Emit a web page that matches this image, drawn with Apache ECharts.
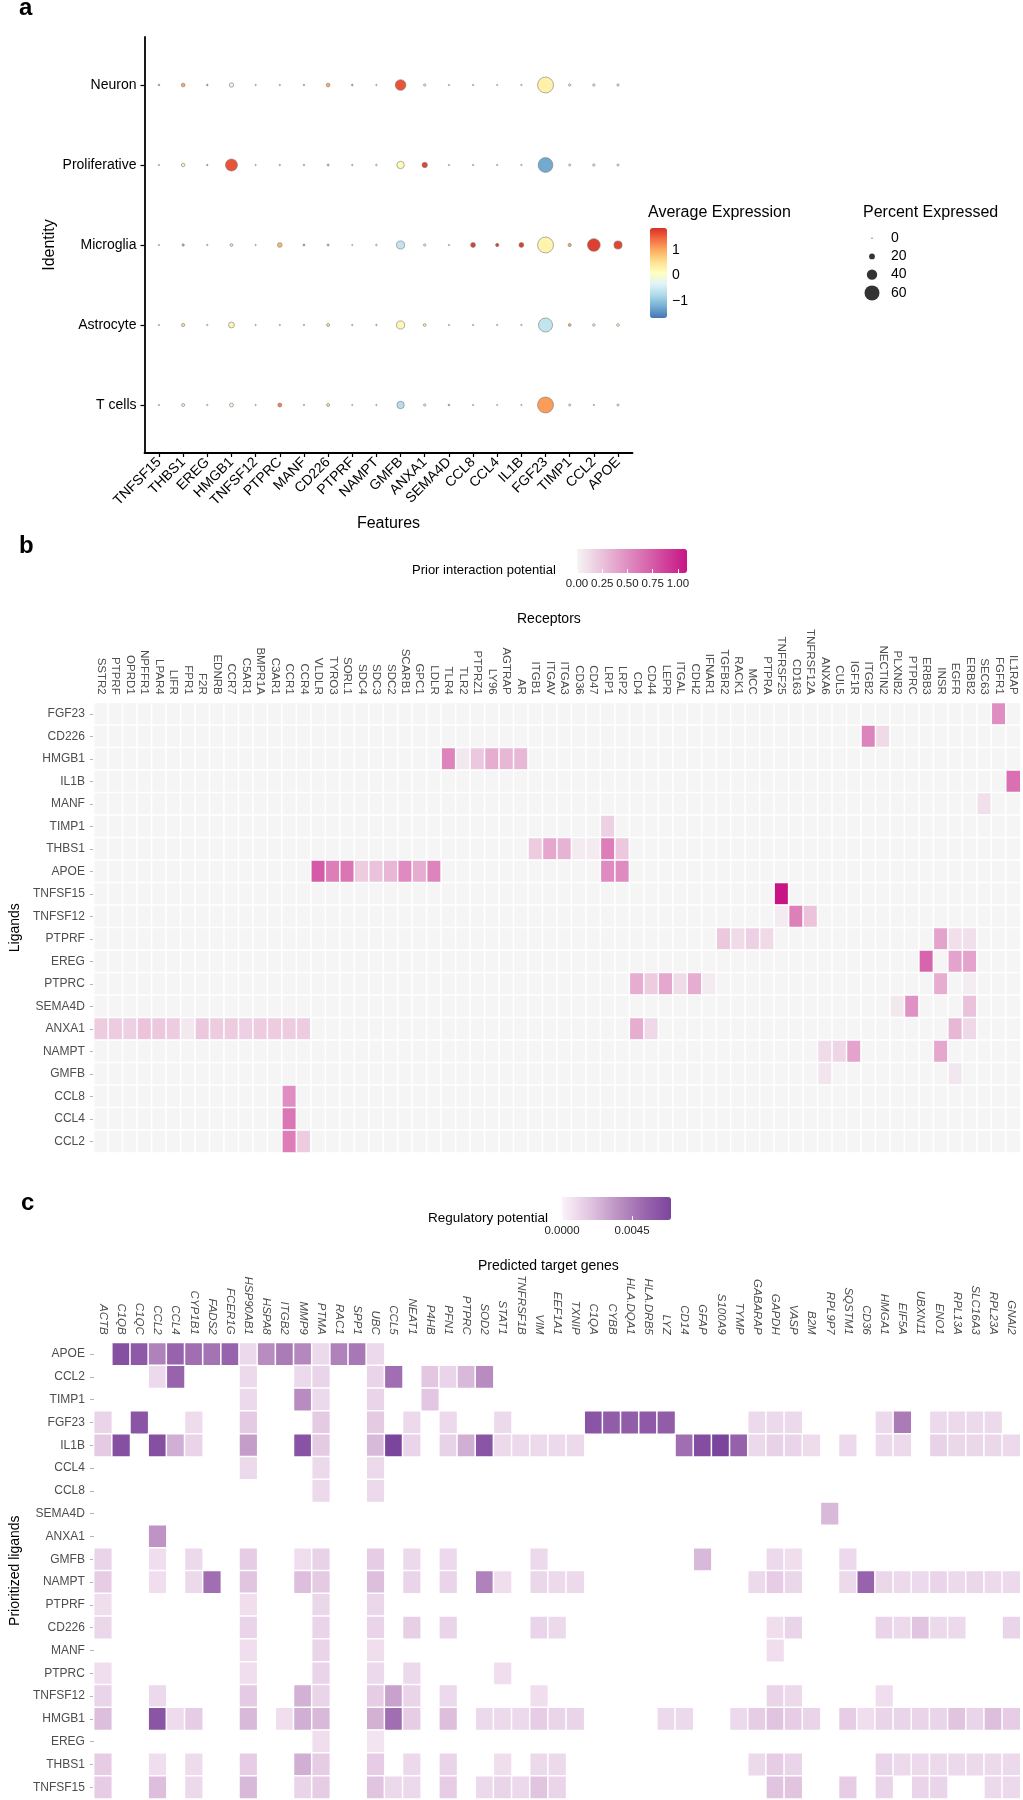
<!DOCTYPE html>
<html>
<head>
<meta charset="utf-8">
<script src="https://cdn.jsdelivr.net/npm/echarts@6/dist/echarts.min.js"></script>
<style>
  html, body { margin: 0; padding: 0; background: #fff; }
  #chart { width: 1023px; height: 1800px; }
</style>
</head>
<body>
<div id="chart"></div>
<script>
// ---------- panel a : dot plot ----------
const features = ['TNFSF15','THBS1','EREG','HMGB1','TNFSF12','PTPRC','MANF','CD226','PTPRF','NAMPT',
  'GMFB','ANXA1','SEMA4D','CCL8','CCL4','IL1B','FGF23','TIMP1','CCL2','APOE'];
const identities = ['T cells','Astrocyte','Microglia','Proliferative','Neuron']; // bottom -> top

const avgTcells   = [0, -0.3, 0, -0.1, 0, 1.3, 0, 0.5, 0, 0, -0.7, -0.3, 1.3, 0, 0, 0, 1.1, -0.3, 0, -0.3];
const pctTcells   = [0.5, 8, 1, 12, 0.5, 12, 1, 8, 0.5, 1, 27, 5, 2, 0.5, 0.5, 0.5, 64, 4, 1, 4];
const avgAstro    = [0, 0.5, 0, 0.2, 0, 0, 0.3, 0.5, 0, 0.9, 0.2, 0.3, 0, 0, 0, 0, -0.6, 0.9, 0, 0.1];
const pctAstro    = [0.5, 9, 1, 20, 0.5, 1, 1, 8, 1, 1, 30, 7, 0.5, 1, 1, 1, 56, 7, 6, 7];
const avgMicro    = [0, -1.0, 0.5, -0.5, 0, 0.9, 1.3, -1.0, 0, 0.3, -0.6, -0.3, 0, 1.75, 1.75, 1.75, 0.25, 1.0, 1.75, 1.7];
const pctMicro    = [0.5, 5, 1, 7, 0.5, 15, 3, 4, 0.3, 2, 30, 5, 1, 16, 9, 16, 64, 9, 50, 30];
const avgProlif   = [0, 0.2, 1.2, 1.6, 0, 0.5, 0.3, -0.8, 0.5, 0.3, 0.15, 1.7, 0, -0.3, -0.3, -0.3, -1.25, -0.3, -0.2, -0.3];
const pctProlif   = [1, 10, 1, 47, 0.5, 1, 2, 4, 1, 2, 27, 18, 1, 1, 1, 1, 59, 4, 5, 4];
const avgNeuron   = [1.3, 1.0, 1.4, -0.2, 0, -0.3, 1.0, 1.0, 1.4, 0.3, 1.6, -0.3, 0.2, -0.3, -0.3, -0.3, 0.3, -0.3, -0.3, -0.2];
const pctNeuron   = [2, 11, 2, 14, 1, 1, 1, 11, 2, 1, 41, 5, 1, 1, 0.5, 1, 64, 5, 5, 5];

const pctLegend = [0, 20, 40, 60];

// ---------- panel b : prior interaction potential ----------
const ligandsB = ['FGF23','CD226','HMGB1','IL1B','MANF','TIMP1','THBS1','APOE','TNFSF15','TNFSF12',
  'PTPRF','EREG','PTPRC','SEMA4D','ANXA1','NAMPT','GMFB','CCL8','CCL4','CCL2'];
const receptors = ['SSTR2','PTPRF','OPRD1','NPFFR1','LPAR4','LIFR','FPR1','F2R','EDNRB','CCR7','C5AR1',
  'BMPR1A','C3AR1','CCR1','CCR4','VLDLR','TYRO3','SORL1','SDC4','SDC3','SDC2','SCARB1','GPC1','LDLR',
  'TLR4','TLR2','PTPRZ1','LY96','AGTRAP','AR','ITGB1','ITGAV','ITGA3','CD36','CD47','LRP1','LRP2','CD4',
  'CD44','LEPR','ITGAL','CDH2','IFNAR1','TGFBR2','RACK1','MCC','PTPRA','TNFRSF25','CD163','TNFRSF12A',
  'ANXA6','CUL5','IGF1R','ITGB2','NECTIN2','PLXNB2','PTPRC','ERBB3','INSR','EGFR','ERBB2','SEC63',
  'FGFR1','IL1RAP'];
const priorScores = [
  ['FGF23','FGFR1',0.50],
  ['CD226','ITGB2',0.55], ['CD226','NECTIN2',0.13],
  ['HMGB1','TLR4',0.55], ['HMGB1','TLR2',0.06], ['HMGB1','PTPRZ1',0.22], ['HMGB1','LY96',0.35],
  ['HMGB1','AGTRAP',0.30], ['HMGB1','AR',0.30],
  ['IL1B','IL1RAP',0.65],
  ['MANF','SEC63',0.10],
  ['TIMP1','LRP1',0.18],
  ['THBS1','ITGB1',0.20], ['THBS1','ITGAV',0.38], ['THBS1','ITGA3',0.32], ['THBS1','CD36',0.05],
  ['THBS1','CD47',0.05], ['THBS1','LRP1',0.58], ['THBS1','LRP2',0.22],
  ['APOE','VLDLR',0.75], ['APOE','TYRO3',0.58], ['APOE','SORL1',0.62], ['APOE','SDC4',0.20],
  ['APOE','SDC3',0.25], ['APOE','SDC2',0.30], ['APOE','SCARB1',0.52], ['APOE','GPC1',0.35],
  ['APOE','LDLR',0.55], ['APOE','LRP1',0.52], ['APOE','LRP2',0.52],
  ['TNFSF15','TNFRSF25',1.09],
  ['TNFSF12','TNFRSF25',0.05], ['TNFSF12','CD163',0.57], ['TNFSF12','TNFRSF12A',0.24],
  ['PTPRF','TGFBR2',0.22], ['PTPRF','RACK1',0.12], ['PTPRF','MCC',0.18], ['PTPRF','PTPRA',0.13],
  ['PTPRF','INSR',0.40], ['PTPRF','EGFR',0.10], ['PTPRF','ERBB2',0.10],
  ['EREG','ERBB3',0.70], ['EREG','EGFR',0.40], ['EREG','ERBB2',0.40],
  ['PTPRC','CD4',0.35], ['PTPRC','CD44',0.20], ['PTPRC','LEPR',0.38], ['PTPRC','ITGAL',0.12],
  ['PTPRC','CDH2',0.35], ['PTPRC','IFNAR1',0.05], ['PTPRC','INSR',0.35], ['PTPRC','ERBB2',0.04],
  ['SEMA4D','PLXNB2',0.06], ['SEMA4D','PTPRC',0.48], ['SEMA4D','ERBB2',0.25],
  ['ANXA1','SSTR2',0.20], ['ANXA1','PTPRF',0.20], ['ANXA1','OPRD1',0.18], ['ANXA1','NPFFR1',0.24],
  ['ANXA1','LPAR4',0.22], ['ANXA1','LIFR',0.20], ['ANXA1','FPR1',0.06], ['ANXA1','F2R',0.22],
  ['ANXA1','EDNRB',0.20], ['ANXA1','CCR7',0.20], ['ANXA1','C5AR1',0.18], ['ANXA1','BMPR1A',0.20],
  ['ANXA1','C3AR1',0.20], ['ANXA1','CCR1',0.20], ['ANXA1','CCR4',0.20], ['ANXA1','CD4',0.35],
  ['ANXA1','CD44',0.14], ['ANXA1','EGFR',0.30], ['ANXA1','ERBB2',0.14],
  ['NAMPT','ANXA6',0.12], ['NAMPT','CUL5',0.15], ['NAMPT','IGF1R',0.40], ['NAMPT','INSR',0.38],
  ['GMFB','ANXA6',0.08], ['GMFB','EGFR',0.07],
  ['CCL8','CCR1',0.50],
  ['CCL4','CCR1',0.62],
  ['CCL2','CCR1',0.58], ['CCL2','CCR4',0.20]
];
const priorTicks = [0, 0.25, 0.5, 0.75, 1];

// ---------- panel c : regulatory potential ----------
const ligandsC = ['APOE','CCL2','TIMP1','FGF23','IL1B','CCL4','CCL8','SEMA4D','ANXA1','GMFB','NAMPT',
  'PTPRF','CD226','MANF','PTPRC','TNFSF12','HMGB1','EREG','THBS1','TNFSF15'];
const targets = ['ACTB','C1QB','C1QC','CCL2','CCL4','CYP1B1','FADS2','FCER1G','HSP90AB1','HSPA8','ITGB2',
  'MMP9','PTMA','RAC1','SPP1','UBC','CCL5','NEAT1','P4HB','PFN1','PTPRC','SOD2','STAT1','TNFRSF1B','VIM',
  'EEF1A1','TXNIP','C1QA','CYBB','HLA.DQA1','HLA.DRB5','LYZ','CD14','GFAP','S100A9','TYMP','GABARAP',
  'GAPDH','VASP','B2M','RPL9P7','SQSTM1','CD36','HMGA1','EIF5A','UBXN11','ENO1','RPL13A','SLC16A3',
  'RPL23A','GNAI2'];
const regScores = [
  ['APOE','C1QB',0.0065], ['APOE','C1QC',0.0060], ['APOE','CCL2',0.0042], ['APOE','CCL4',0.0055],
  ['APOE','CYP1B1',0.0050], ['APOE','FADS2',0.0048], ['APOE','FCER1G',0.0055], ['APOE','HSP90AB1',0.0010],
  ['APOE','HSPA8',0.0038], ['APOE','ITGB2',0.0045], ['APOE','MMP9',0.0040], ['APOE','PTMA',0.0010],
  ['APOE','RAC1',0.0042], ['APOE','SPP1',0.0046], ['APOE','UBC',0.0010],
  ['CCL2','CCL2',0.0010], ['CCL2','CCL4',0.0055], ['CCL2','HSP90AB1',0.0010], ['CCL2','MMP9',0.0010],
  ['CCL2','PTMA',0.0012], ['CCL2','UBC',0.0012], ['CCL2','CCL5',0.0050], ['CCL2','P4HB',0.0017],
  ['CCL2','PFN1',0.0012], ['CCL2','PTPRC',0.0022], ['CCL2','SOD2',0.0038],
  ['TIMP1','HSP90AB1',0.0010], ['TIMP1','MMP9',0.0038], ['TIMP1','PTMA',0.0010], ['TIMP1','UBC',0.0012],
  ['TIMP1','P4HB',0.0017],
  ['FGF23','ACTB',0.0012], ['FGF23','C1QC',0.0062], ['FGF23','CYP1B1',0.0009], ['FGF23','HSP90AB1',0.0016],
  ['FGF23','PTMA',0.0016], ['FGF23','UBC',0.0016], ['FGF23','NEAT1',0.0010], ['FGF23','PFN1',0.0010],
  ['FGF23','STAT1',0.0010], ['FGF23','C1QA',0.0062], ['FGF23','CYBB',0.0058], ['FGF23','HLA.DQA1',0.0058],
  ['FGF23','HLA.DRB5',0.0060], ['FGF23','LYZ',0.0058], ['FGF23','GABARAP',0.0010], ['FGF23','GAPDH',0.0010],
  ['FGF23','VASP',0.0010], ['FGF23','HMGA1',0.0010], ['FGF23','EIF5A',0.0045], ['FGF23','ENO1',0.0010],
  ['FGF23','RPL13A',0.0010], ['FGF23','SLC16A3',0.0010], ['FGF23','RPL23A',0.0010],
  ['IL1B','ACTB',0.0016], ['IL1B','C1QB',0.0065], ['IL1B','CCL2',0.0065], ['IL1B','CCL4',0.0026],
  ['IL1B','CYP1B1',0.0012], ['IL1B','HSP90AB1',0.0032], ['IL1B','MMP9',0.0063], ['IL1B','PTMA',0.0016],
  ['IL1B','UBC',0.0022], ['IL1B','CCL5',0.0070], ['IL1B','NEAT1',0.0012], ['IL1B','PFN1',0.0013],
  ['IL1B','PTPRC',0.0026], ['IL1B','SOD2',0.0062], ['IL1B','STAT1',0.0010], ['IL1B','TNFRSF1B',0.0010],
  ['IL1B','VIM',0.0010], ['IL1B','EEF1A1',0.0010], ['IL1B','TXNIP',0.0010], ['IL1B','CD14',0.0050],
  ['IL1B','GFAP',0.0066], ['IL1B','S100A9',0.0070], ['IL1B','TYMP',0.0056], ['IL1B','GABARAP',0.0010],
  ['IL1B','GAPDH',0.0013], ['IL1B','VASP',0.0012], ['IL1B','B2M',0.0009], ['IL1B','SQSTM1',0.0010],
  ['IL1B','HMGA1',0.0010], ['IL1B','EIF5A',0.0010], ['IL1B','ENO1',0.0013], ['IL1B','RPL13A',0.0011],
  ['IL1B','SLC16A3',0.0011], ['IL1B','RPL23A',0.0011], ['IL1B','GNAI2',0.0010],
  ['CCL4','HSP90AB1',0.0010], ['CCL4','PTMA',0.0010], ['CCL4','UBC',0.0010],
  ['CCL8','PTMA',0.0010], ['CCL8','UBC',0.0010],
  ['SEMA4D','RPL9P7',0.0022],
  ['ANXA1','CCL2',0.0035],
  ['GMFB','ACTB',0.0012], ['GMFB','CCL2',0.0008], ['GMFB','CYP1B1',0.0010], ['GMFB','HSP90AB1',0.0015],
  ['GMFB','MMP9',0.0008], ['GMFB','PTMA',0.0013], ['GMFB','UBC',0.0015], ['GMFB','NEAT1',0.0010],
  ['GMFB','PFN1',0.0010], ['GMFB','VIM',0.0010], ['GMFB','GFAP',0.0022], ['GMFB','GAPDH',0.0010],
  ['GMFB','VASP',0.0008], ['GMFB','SQSTM1',0.0010],
  ['NAMPT','ACTB',0.0015], ['NAMPT','CCL2',0.0008], ['NAMPT','CYP1B1',0.0010], ['NAMPT','FADS2',0.0050],
  ['NAMPT','HSP90AB1',0.0018], ['NAMPT','MMP9',0.0020], ['NAMPT','PTMA',0.0016], ['NAMPT','UBC',0.0020],
  ['NAMPT','NEAT1',0.0012], ['NAMPT','PFN1',0.0012], ['NAMPT','SOD2',0.0042], ['NAMPT','STAT1',0.0008],
  ['NAMPT','VIM',0.0011], ['NAMPT','EEF1A1',0.0010], ['NAMPT','TXNIP',0.0010], ['NAMPT','GABARAP',0.0010],
  ['NAMPT','GAPDH',0.0015], ['NAMPT','VASP',0.0011], ['NAMPT','SQSTM1',0.0010], ['NAMPT','CD36',0.0055],
  ['NAMPT','HMGA1',0.0011], ['NAMPT','EIF5A',0.0010], ['NAMPT','UBXN11',0.0010], ['NAMPT','ENO1',0.0012],
  ['NAMPT','RPL13A',0.0010], ['NAMPT','SLC16A3',0.0011], ['NAMPT','RPL23A',0.0010], ['NAMPT','GNAI2',0.0010],
  ['PTPRF','ACTB',0.0008], ['PTPRF','HSP90AB1',0.0008], ['PTPRF','PTMA',0.0011], ['PTPRF','UBC',0.0011],
  ['CD226','ACTB',0.0011], ['CD226','HSP90AB1',0.0012], ['CD226','PTMA',0.0012], ['CD226','UBC',0.0012],
  ['CD226','NEAT1',0.0014], ['CD226','PFN1',0.0012], ['CD226','VIM',0.0012], ['CD226','EEF1A1',0.0010],
  ['CD226','GAPDH',0.0008], ['CD226','VASP',0.0012], ['CD226','HMGA1',0.0012], ['CD226','EIF5A',0.0010],
  ['CD226','UBXN11',0.0018], ['CD226','ENO1',0.0010], ['CD226','RPL13A',0.0010], ['CD226','GNAI2',0.0012],
  ['MANF','HSP90AB1',0.0008], ['MANF','PTMA',0.0012], ['MANF','UBC',0.0008], ['MANF','GAPDH',0.0008],
  ['PTPRC','ACTB',0.0008], ['PTPRC','HSP90AB1',0.0008], ['PTPRC','PTMA',0.0012], ['PTPRC','UBC',0.0010],
  ['PTPRC','NEAT1',0.0010], ['PTPRC','STAT1',0.0008],
  ['TNFSF12','ACTB',0.0012], ['TNFSF12','CCL2',0.0010], ['TNFSF12','HSP90AB1',0.0016], ['TNFSF12','MMP9',0.0025],
  ['TNFSF12','PTMA',0.0012], ['TNFSF12','UBC',0.0015], ['TNFSF12','CCL5',0.0030], ['TNFSF12','NEAT1',0.0012],
  ['TNFSF12','PFN1',0.0010], ['TNFSF12','VIM',0.0008], ['TNFSF12','GAPDH',0.0012], ['TNFSF12','VASP',0.0010],
  ['TNFSF12','HMGA1',0.0008],
  ['HMGB1','ACTB',0.0020], ['HMGB1','CCL2',0.0062], ['HMGB1','CCL4',0.0009], ['HMGB1','CYP1B1',0.0015],
  ['HMGB1','HSP90AB1',0.0022], ['HMGB1','ITGB2',0.0008], ['HMGB1','MMP9',0.0026], ['HMGB1','PTMA',0.0022],
  ['HMGB1','UBC',0.0025], ['HMGB1','CCL5',0.0050], ['HMGB1','NEAT1',0.0015], ['HMGB1','PFN1',0.0020],
  ['HMGB1','SOD2',0.0010], ['HMGB1','STAT1',0.0010], ['HMGB1','TNFRSF1B',0.0010], ['HMGB1','VIM',0.0015],
  ['HMGB1','EEF1A1',0.0012], ['HMGB1','TXNIP',0.0012], ['HMGB1','LYZ',0.0010], ['HMGB1','CD14',0.0010],
  ['HMGB1','TYMP',0.0010], ['HMGB1','GABARAP',0.0015], ['HMGB1','GAPDH',0.0018], ['HMGB1','VASP',0.0015],
  ['HMGB1','B2M',0.0012], ['HMGB1','SQSTM1',0.0015], ['HMGB1','CD36',0.0008], ['HMGB1','HMGA1',0.0012],
  ['HMGB1','EIF5A',0.0012], ['HMGB1','UBXN11',0.0012], ['HMGB1','ENO1',0.0012], ['HMGB1','RPL13A',0.0018],
  ['HMGB1','SLC16A3',0.0012], ['HMGB1','RPL23A',0.0020], ['HMGB1','GNAI2',0.0015],
  ['EREG','PTMA',0.0008], ['EREG','UBC',0.0006],
  ['THBS1','ACTB',0.0015], ['THBS1','CCL2',0.0008], ['THBS1','CYP1B1',0.0009], ['THBS1','HSP90AB1',0.0015],
  ['THBS1','MMP9',0.0026], ['THBS1','PTMA',0.0015], ['THBS1','UBC',0.0015], ['THBS1','NEAT1',0.0010],
  ['THBS1','PFN1',0.0012], ['THBS1','STAT1',0.0008], ['THBS1','VIM',0.0010], ['THBS1','EEF1A1',0.0010],
  ['THBS1','GABARAP',0.0010], ['THBS1','GAPDH',0.0015], ['THBS1','VASP',0.0012], ['THBS1','HMGA1',0.0012],
  ['THBS1','EIF5A',0.0010], ['THBS1','UBXN11',0.0010], ['THBS1','ENO1',0.0010], ['THBS1','RPL13A',0.0010],
  ['THBS1','SLC16A3',0.0010], ['THBS1','RPL23A',0.0010], ['THBS1','GNAI2',0.0010],
  ['TNFSF15','ACTB',0.0015], ['TNFSF15','CCL2',0.0020], ['TNFSF15','CYP1B1',0.0010], ['TNFSF15','HSP90AB1',0.0022],
  ['TNFSF15','MMP9',0.0012], ['TNFSF15','PTMA',0.0015], ['TNFSF15','UBC',0.0018], ['TNFSF15','CCL5',0.0010],
  ['TNFSF15','NEAT1',0.0010], ['TNFSF15','PFN1',0.0015], ['TNFSF15','SOD2',0.0010], ['TNFSF15','STAT1',0.0012],
  ['TNFSF15','TNFRSF1B',0.0010], ['TNFSF15','VIM',0.0018], ['TNFSF15','EEF1A1',0.0012], ['TNFSF15','GAPDH',0.0018],
  ['TNFSF15','VASP',0.0018], ['TNFSF15','SQSTM1',0.0015], ['TNFSF15','HMGA1',0.0012], ['TNFSF15','UBXN11',0.0012],
  ['TNFSF15','ENO1',0.0012], ['TNFSF15','RPL23A',0.0010], ['TNFSF15','GNAI2',0.0010]
];
const regTicks = [0, 0.0045];

// ---------- build series data ----------
const dotRows = [[avgTcells, pctTcells], [avgAstro, pctAstro], [avgMicro, pctMicro],
                 [avgProlif, pctProlif], [avgNeuron, pctNeuron]];
const dotData = [];
dotRows.forEach(([avg, pct], yi) => {
  features.forEach((f, xi) => dotData.push([xi + 1, yi + 1, avg[xi], pct[xi]]));
});
const dotSize = p => 1.2 + 0.23 * p;

const priorData = [];
ligandsB.forEach((l, yi) => receptors.forEach((r, xi) => priorData.push([xi, yi, 0])));
priorScores.forEach(([l, r, v]) => {
  const yi = ligandsB.indexOf(l), xi = receptors.indexOf(r);
  if (yi < 0 || xi < 0) console.warn('missing', l, r);
  else priorData[yi * receptors.length + xi][2] = v;
});

const regData = regScores.map(([l, t, v]) => {
  const yi = ligandsC.indexOf(l), xi = targets.indexOf(t);
  if (yi < 0 || xi < 0) console.warn('missing', l, t);
  return [xi, yi, v];
});

// ---------- chart ----------
const FONT = 'Liberation Sans, Arial, sans-serif';
const chart = echarts.init(document.getElementById('chart'), null, { renderer: 'canvas', width: 1023, height: 1800 });

const txt = (size, extra) => Object.assign({ fontSize: size, fontFamily: FONT, color: '#000', fontWeight: 'normal' }, extra || {});
const hidden = { show: false };

const option = {
  animation: false,
  backgroundColor: '#fff',
  title: [
    { text: 'a', left: 19, top: -4, padding: 0, textStyle: txt(24, { fontWeight: 'bold' }) },
    { text: 'b', left: 19, top: 534, padding: 0, textStyle: txt(24, { fontWeight: 'bold' }) },
    { text: 'c', left: 21, top: 1191, padding: 0, textStyle: txt(24, { fontWeight: 'bold' }) },
    { text: 'Average Expression', left: 648, top: 205, padding: 0, textStyle: txt(16) },
    { text: 'Percent Expressed', left: 863, top: 205, padding: 0, textStyle: txt(16) },
    { text: 'Prior interaction potential', left: 412, top: 564, padding: 0, textStyle: txt(13) },
    { text: 'Receptors', left: 517, top: 612, padding: 0, textStyle: txt(14) },
    { text: 'Regulatory potential', left: 428, top: 1211, padding: 0, textStyle: txt(13.5) },
    { text: 'Predicted target genes', left: 478, top: 1259, padding: 0, textStyle: txt(14) }
  ],
  grid: [
    { left: 144.5, top: 37, width: 488, height: 416 },
    { left: 650, top: 228, width: 17, height: 90 },
    { left: 860, top: 229, width: 24, height: 73 },
    { left: 77, top: 702.7, width: 943.5, height: 450 },
    { left: 577, top: 549, width: 110, height: 24 },
    { left: 77, top: 1342.7, width: 943.5, height: 456 },
    { left: 562, top: 1197, width: 109, height: 23 }
  ],
  xAxis: [
    { gridIndex: 0, type: 'value', min: 0.4, max: 20.6, splitLine: hidden,
      axisLine: { lineStyle: { color: '#000', width: 1.8 } },
      axisTick: { customValues: features.map((f, i) => i + 1), length: 4, lineStyle: { color: '#000', width: 1.2 } },
      axisLabel: { customValues: features.map((f, i) => i + 1), formatter: v => features[Math.round(v) - 1],
                   rotate: 45, margin: 7, ...txt(14) },
      name: 'Features', nameLocation: 'middle', nameGap: 63, nameTextStyle: txt(16) },
    { gridIndex: 1, type: 'value', show: false, min: 0, max: 1 },
    { gridIndex: 2, type: 'value', show: false, min: 0, max: 1 },
    { gridIndex: 3, type: 'category', position: 'top', data: receptors,
      axisLine: hidden, splitLine: hidden,
      axisTick: { alignWithLabel: true, length: 3, lineStyle: { color: '#b3b3b3' } },
      axisLabel: { rotate: 90, interval: 0, margin: 8, ...txt(11.5, { color: '#4d4d4d' }) } },
    { gridIndex: 4, type: 'value', position: 'bottom', min: 0, max: 1.09, z: 10, splitLine: hidden,
      axisLine: hidden,
      axisTick: { customValues: priorTicks, inside: true, length: 4, lineStyle: { color: '#fff', width: 1 } },
      axisLabel: { customValues: priorTicks, formatter: v => v.toFixed(2), margin: 5, ...txt(11.5, { color: '#222' }) } },
    { gridIndex: 5, type: 'category', position: 'top', data: targets,
      axisLine: hidden, splitLine: hidden,
      axisTick: { alignWithLabel: true, length: 3, lineStyle: { color: '#b3b3b3' } },
      axisLabel: { rotate: 90, interval: 0, margin: 8, ...txt(11.5, { color: '#4d4d4d', fontStyle: 'italic' }) } },
    { gridIndex: 6, type: 'value', position: 'bottom', min: 0, max: 0.007, z: 10, splitLine: hidden,
      axisLine: hidden,
      axisTick: { customValues: regTicks, inside: true, length: 4, lineStyle: { color: '#fff', width: 1 } },
      axisLabel: { customValues: regTicks, formatter: v => v.toFixed(4), margin: 5, ...txt(11.5, { color: '#222' }) } }
  ],
  yAxis: [
    { gridIndex: 0, type: 'value', min: 0.4, max: 5.6, splitLine: hidden,
      axisLine: { show: true, lineStyle: { color: '#000', width: 1.8 } },
      axisTick: { show: true, customValues: [1, 2, 3, 4, 5], length: 4, lineStyle: { color: '#000', width: 1.2 } },
      axisLabel: { customValues: [1, 2, 3, 4, 5], formatter: v => identities[Math.round(v) - 1], margin: 8, ...txt(14) },
      name: 'Identity', nameLocation: 'middle', nameGap: 87, nameRotate: 90, nameTextStyle: txt(16) },
    { gridIndex: 1, type: 'value', position: 'right', min: -1.67, max: 1.86, z: 10, splitLine: hidden,
      axisLine: hidden,
      axisTick: { show: true, customValues: [-1, 0, 1], inside: true, length: 4, lineStyle: { color: '#fff', width: 1 } },
      axisLabel: { customValues: [-1, 0, 1], formatter: v => (v < 0 ? '\u2212' + Math.abs(v) : String(v)), margin: 5, ...txt(14) } },
    { gridIndex: 2, type: 'category', position: 'right', inverse: true, data: pctLegend.map(String),
      axisLine: hidden, axisTick: hidden, splitLine: hidden,
      axisLabel: { margin: 7, ...txt(14) } },
    { gridIndex: 3, type: 'category', inverse: true, data: ligandsB,
      axisLine: hidden, splitLine: hidden,
      axisTick: { show: true, alignWithLabel: true, length: 4, lineStyle: { color: '#b3b3b3' } },
      axisLabel: { margin: 9, ...txt(12, { color: '#4d4d4d' }) },
      name: 'Ligands', nameLocation: 'middle', nameGap: 60, nameRotate: 90, nameTextStyle: txt(14) },
    { gridIndex: 4, type: 'value', show: false, min: 0, max: 1 },
    { gridIndex: 5, type: 'category', inverse: true, data: ligandsC,
      axisLine: hidden, splitLine: hidden,
      axisTick: { show: true, alignWithLabel: true, length: 4, lineStyle: { color: '#b3b3b3' } },
      axisLabel: { margin: 9, ...txt(12, { color: '#4d4d4d' }) },
      name: 'Prioritized ligands', nameLocation: 'middle', nameGap: 63, nameRotate: 90, nameTextStyle: txt(14) },
    { gridIndex: 6, type: 'value', show: false, min: 0, max: 1 }
  ],
  visualMap: [
    { type: 'continuous', seriesIndex: 0, dimension: 2, min: -1.67, max: 1.86, calculable: false,
      orient: 'vertical', left: 650, top: 228, itemWidth: 17, itemHeight: 90, padding: 0,
      inRange: { color: ['#4575b4','#74add1','#abd9e9','#e0f3f8','#ffffbf','#fee090','#fdae61','#f46d43','#d73027'] } },
    { type: 'continuous', seriesIndex: 2, dimension: 2, min: 0, max: 1.09, calculable: false,
      orient: 'horizontal', left: 577, top: 549, itemWidth: 24, itemHeight: 110, padding: 0,
      inRange: { color: ['#f5f5f5', '#c71585'] } },
    { type: 'continuous', seriesIndex: 3, dimension: 2, min: 0, max: 0.007, calculable: false,
      orient: 'horizontal', left: 562, top: 1197, itemWidth: 23, itemHeight: 109, padding: 0,
      inRange: { color: ['#fbf3fa', '#e2c6e1', '#be94c4', '#9b68ae', '#7c459d'] } }
  ],
  series: [
    { type: 'scatter', xAxisIndex: 0, yAxisIndex: 0, data: dotData,
      symbolSize: v => dotSize(v[3]),
      itemStyle: { borderColor: '#7a7a7a', borderWidth: 0.6, opacity: 1 } },
    { type: 'scatter', xAxisIndex: 2, yAxisIndex: 2,
      data: pctLegend.map((p, i) => [0.5, i, p]),
      symbolSize: v => dotSize(v[2]),
      itemStyle: { color: '#000' } },
    { type: 'heatmap', xAxisIndex: 3, yAxisIndex: 3, data: priorData,
      itemStyle: { borderColor: '#fff', borderWidth: 1.5 } },
    { type: 'heatmap', xAxisIndex: 5, yAxisIndex: 5, data: regData,
      itemStyle: { borderColor: '#fff', borderWidth: 1.5 } }
  ]
};

chart.setOption(option);
</script>
</body>
</html>
